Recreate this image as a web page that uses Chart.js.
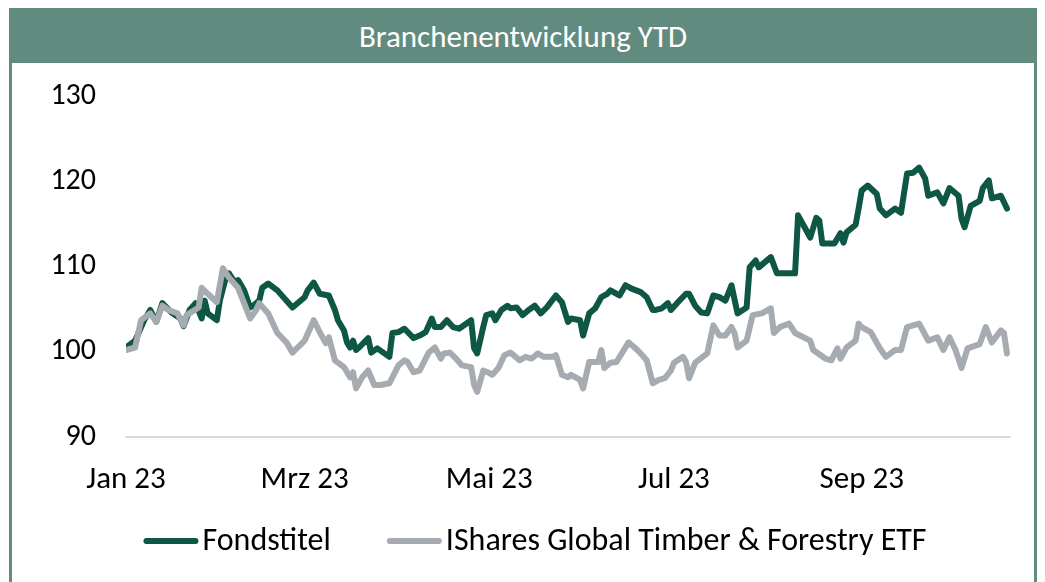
<!DOCTYPE html>
<html lang="de">
<head>
<meta charset="utf-8">
<title>Branchenentwicklung YTD</title>
<script src="https://cdn.jsdelivr.net/npm/chart.js@4.4.0/dist/chart.umd.min.js"></script>
<style>
  html, body { margin: 0; padding: 0; background: #ffffff; }
  body { width: 1045px; height: 582px; overflow: hidden; position: relative; }
  #frame {
    position: absolute; left: 9px; top: 8px; width: 1022px; height: 590px;
    border: 3px solid #618b7f; background: #ffffff;
  }
  #head {
    height: 52px; background: #618b7f; color: #ffffff;
    font-family: Carlito, Lato, "Liberation Sans", sans-serif; font-size: 31px;
    display: flex; align-items: center; justify-content: center;
    padding-bottom: 2px; box-sizing: border-box;
  }
  #chart { position: absolute; left: 0; top: 52px; }
</style>
</head>
<body>
<div id="frame">
  <div id="head">Branchenentwicklung YTD</div>
  <canvas id="chart" width="1022" height="519"></canvas>
</div>
<script>
// Days counted from 1 Jan 2023, index values (start = 100)
const fondsDays = [0,3,6,8,10,12,15,18,19,21,23,25,26,27,30,31,33,34,36,37,39,41,42,44,45,47,50,55,59,60,62,64,67,69,70,72,73,74,75,76,77,80,81,83,87,88,90,92,95,97,99,101,102,104,106,108,110,114,115,116,118,119,121,122,124,126,127,129,131,133,135,137,139,142,144,146,147,150,151,153,155,157,159,160,163,165,167,170,172,174,175,177,179,180,182,185,186,188,190,192,194,196,198,200,202,205,206,208,209,213,215,221,222,226,228,229,230,234,236,237,238,241,242,243,245,248,249,251,254,256,258,260,262,264,265,268,270,272,275,276,277,279,282,283,285,286,289,291];
const fondsValues = [100.5,101.3,103.7,104.9,103.5,105.7,104.6,103.9,103.0,104.9,105.7,103.9,106.0,104.5,103.7,106.0,108.7,109.2,108.1,108.4,107.2,105.2,105.4,106.0,107.5,108.0,107.2,105.2,106.4,107.2,108.1,106.8,106.6,104.9,103.7,102.5,101.1,100.5,101.3,100.2,100.5,101.6,99.9,100.4,99.4,102.2,102.3,102.7,101.6,101.9,102.3,103.9,102.9,102.9,103.7,102.9,102.7,103.7,100.4,99.8,102.9,104.3,104.5,103.7,104.9,105.4,105.1,105.2,104.3,104.9,105.4,104.5,105.2,106.6,105.8,103.5,103.9,103.7,101.9,104.5,105.1,106.4,106.8,107.2,106.6,107.8,107.4,107.0,106.4,104.9,104.9,105.1,105.7,104.9,105.7,106.8,106.8,105.4,104.6,104.5,106.6,106.4,106.0,107.8,104.5,105.2,109.9,110.7,109.9,111.1,109.2,109.2,116.0,113.4,115.7,115.4,112.7,112.7,113.9,112.8,114.0,114.9,116.8,118.9,119.5,118.5,116.8,116.0,116.8,116.3,120.9,121.0,121.6,120.3,118.3,118.7,117.4,119.2,118.3,115.6,114.6,117.1,117.7,119.2,120.1,118.0,118.3,116.8];

const etfDays = [0,3,5,8,10,12,14,17,19,20,24,25,27,30,32,34,37,39,41,43,44,47,50,53,55,59,62,64,66,67,69,72,74,75,76,78,80,82,84,87,90,92,93,95,97,100,102,104,105,107,109,111,114,115,116,118,120,121,123,125,127,128,130,132,134,136,138,141,142,144,146,147,150,151,153,156,157,158,160,162,166,168,170,172,174,176,178,180,181,184,185,186,188,189,192,194,196,198,200,201,202,205,207,210,213,214,216,219,221,226,227,231,233,235,236,238,241,242,243,246,249,251,254,256,258,262,265,268,270,272,274,276,278,282,284,286,289,290,291];
const etfValues = [100.2,100.5,103.7,104.5,103.5,105.4,104.9,104.5,103.1,104.3,105.2,107.5,106.8,105.8,109.8,108.7,107.5,105.7,103.9,104.9,105.7,104.5,102.2,101.1,99.9,101.3,103.7,102.3,101.0,101.7,99.0,98.2,97.0,97.6,95.7,97.0,97.8,96.1,96.1,96.3,98.4,99.0,98.8,97.6,97.8,99.9,100.5,99.2,99.8,99.9,99.2,98.4,98.2,96.1,95.3,97.8,97.5,97.3,98.1,99.6,99.9,99.6,99.0,99.4,99.2,99.8,99.4,99.4,99.6,97.3,97.0,97.3,96.7,95.7,98.8,98.8,100.2,98.1,98.7,98.8,101.1,100.5,99.8,99.0,96.3,96.7,96.9,97.8,98.7,99.4,98.8,96.9,98.7,99.0,99.8,103.1,101.9,101.9,102.9,102.2,100.5,101.3,104.3,104.5,105.1,102.2,102.9,103.3,102.2,101.3,100.2,99.2,99.0,100.4,99.2,100.5,101.3,103.3,102.9,102.3,100.4,99.4,100.2,100.2,102.9,103.3,101.3,101.7,100.2,101.7,100.2,98.1,100.4,100.9,102.9,101.1,102.5,102.2,99.8];

// Axis labels: first day of every second month
const monthTickDays = [0, 59, 120, 181, 243];
const monthTickLabels = ['Jan 23', 'Mrz 23', 'Mai 23', 'Jul 23', 'Sep 23'];
const valueTicks = [90, 100, 110, 120, 130];

const seriesNames = ['Fondstitel', 'IShares Global Timber & Forestry ETF'];
const seriesColors = ['#0f5745', '#a5abb0'];

const pairs = (xs, ys) => xs.map((x, i) => ({ x: x, y: ys[i] }));
const FONT = 'Carlito, Lato, "Liberation Sans", sans-serif';

// Legend drawn as short round-capped line swatches followed closely by the series name
const lineLegend = {
  id: 'lineLegend',
  afterDraw(chart, args, opts) {
    const ctx = chart.ctx;
    const items = chart.data.datasets.map(ds => ({ text: ds.label, color: ds.borderColor }));
    ctx.save();
    ctx.font = opts.size + 'px ' + opts.family;
    const widths = items.map(it => ctx.measureText(it.text).width);
    const total = items.reduce((s, it, i) => s + opts.swatch + opts.gap + widths[i], 0)
      + opts.spacing * (items.length - 1);
    let x = opts.centerX - total / 2;
    const y = chart.chartArea.bottom + opts.offsetY;
    items.forEach((it, i) => {
      ctx.strokeStyle = it.color;
      ctx.lineWidth = opts.lineWidth;
      ctx.lineCap = 'round';
      ctx.beginPath();
      ctx.moveTo(x + opts.lineWidth / 2, y);
      ctx.lineTo(x + opts.swatch - opts.lineWidth / 2, y);
      ctx.stroke();
      x += opts.swatch + opts.gap;
      ctx.fillStyle = '#000000';
      ctx.textBaseline = 'middle';
      ctx.textAlign = 'left';
      ctx.fillText(it.text, x, y + 1);
      x += widths[i] + opts.spacing;
    });
    ctx.restore();
  }
};

new Chart(document.getElementById('chart'), {
  type: 'line',
  data: {
    datasets: [
      {
        label: seriesNames[0],
        data: pairs(fondsDays, fondsValues),
        borderColor: seriesColors[0],
        backgroundColor: seriesColors[0],
        borderWidth: 6,
        pointRadius: 0,
        tension: 0,
        borderJoinStyle: 'round',
        borderCapStyle: 'round',
        order: 1
      },
      {
        label: seriesNames[1],
        data: pairs(etfDays, etfValues),
        borderColor: seriesColors[1],
        backgroundColor: seriesColors[1],
        borderWidth: 6,
        pointRadius: 0,
        tension: 0,
        borderJoinStyle: 'round',
        borderCapStyle: 'round',
        order: 0
      }
    ]
  },
  plugins: [lineLegend],
  options: {
    responsive: false,
    devicePixelRatio: 1,
    animation: false,
    events: [],
    layout: { padding: { top: 33, right: 24, bottom: 70, left: 0 } },
    plugins: {
      title: { display: false },
      tooltip: { enabled: false },
      legend: { display: false },
      lineLegend: {
        family: FONT, size: 32, swatch: 55, gap: 4, spacing: 56,
        lineWidth: 6, centerX: 523, offsetY: 104
      }
    },
    scales: {
      x: {
        type: 'linear',
        min: 0,
        max: 292,
        grid: { display: false, drawTicks: false },
        border: { display: true, color: '#d9d9d9', width: 2 },
        afterBuildTicks: (scale) => { scale.ticks = monthTickDays.map(v => ({ value: v })); },
        afterFit: (scale) => { scale.height = 75; },
        ticks: {
          autoSkip: false,
          maxRotation: 0,
          padding: 25,
          color: '#000000',
          font: { family: FONT, size: 31 },
          callback: (v) => monthTickLabels[monthTickDays.indexOf(v)]
        }
      },
      y: {
        min: 90,
        max: 130,
        grid: { display: false, drawTicks: false },
        border: { display: false },
        afterBuildTicks: (scale) => { scale.ticks = valueTicks.map(v => ({ value: v })); },
        afterFit: (scale) => {
          scale.width = 114;
          scale.paddingTop = 0;
          scale.paddingBottom = 0;
        },
        ticks: {
          padding: 30,
          color: '#000000',
          font: { family: FONT, size: 30 }
        }
      }
    }
  }
});
</script>
</body>
</html>
